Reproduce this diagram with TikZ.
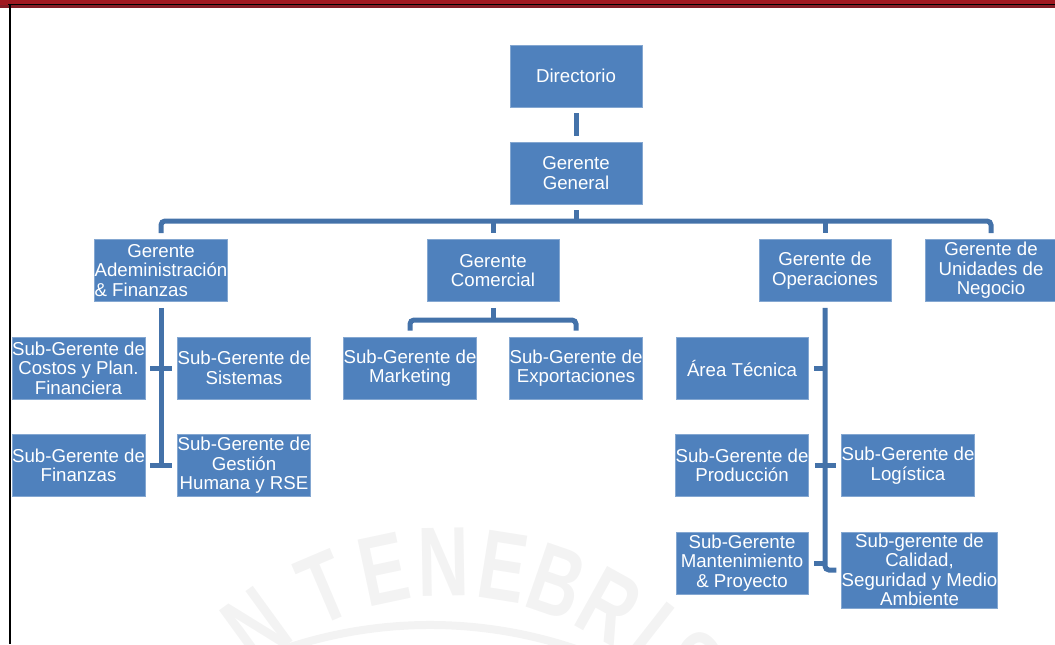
\documentclass[tikz,border=0pt]{standalone}
\usepackage{fontspec}
\setmainfont{Liberation Sans}
\usetikzlibrary{calc}

\definecolor{boxblue}{HTML}{4F81BD}
\definecolor{linkblue}{HTML}{4472A9}
\definecolor{sealgray}{HTML}{F3F3F3}
\definecolor{bandred}{HTML}{A01820}
\definecolor{banddark}{HTML}{841C25}

\tikzset{
  box/.style={draw=boxblue!70!white, line width=0.5pt, fill=boxblue, text=white,
    font=\fontsize{14}{14.6}\selectfont, align=center, inner sep=0pt,
    minimum width=99pt, minimum height=46.5pt},
  widebox/.style={box, minimum width=116.25pt, minimum height=57pt},
  conn/.style={draw=linkblue, line width=3.75pt},
  seal/.style={text=sealgray, font=\fontsize{74}{74}\selectfont\bfseries, inner sep=0pt},
}
% narrow capital for the seal lettering
\newcommand{\sealchar}[1]{\scalebox{0.72}[1]{#1}}

\begin{document}
\begin{tikzpicture}[x=0.75pt, y=-0.75pt]
\useasboundingbox (0,0) rectangle (1055,644);

% page frame: red band with black rule, black rule on the left
\fill[bandred] (0,0) rectangle (1055,8);
\fill[banddark] (0,5) rectangle (1055,8);
\draw[black, line width=1.2pt] (8,4.5) -- (1055,4.5);
\draw[black, line width=1.5pt] (9.5,4) -- (9.5,644);

% faint seal in the background
\draw[sealgray, line width=6pt] (274.4,652.4) arc[start angle=110, end angle=70, radius=341.25pt];
\node[seal, rotate=36]  (sealN1) at (256,626) {\sealchar{N}};
\node[seal, rotate=23]  (sealT)  at (324,588) {\sealchar{T}};
\node[seal, rotate=12]  (sealE1) at (384,569) {\sealchar{E}};
\node[seal, rotate=1]   (sealN2) at (444,562) {\sealchar{N}};
\node[seal, rotate=-9]  (sealE2) at (503,567) {\sealchar{E}};
\node[seal, rotate=-19] (sealB)  at (557,582) {\sealchar{B}};
\node[seal, rotate=-29] (sealR)  at (609,606) {\sealchar{R}};
\node[seal, rotate=-38] (sealI)  at (650,632) {\sealchar{I}};
\node[seal, rotate=-47] (sealS)  at (688,664) {\sealchar{S}};

% top of the chart
\node[box] (dir) at (576,76)  {Directorio};
\node[box] (gg)  at (576,173) {Gerente\\General};

% managers
\node[box] (adm) at (161,270.5) {Gerente\\Adeministración\\\rlap{\& Finanzas}\phantom{Adeministración}};
\node[box] (com) at (493,270.5) {Gerente\\Comercial};
\node[box] (ope) at (825,270.5) {Gerente de\\Operaciones};
\node[box] (uni) at (991,270.5) {Gerente de\\Unidades de\\Negocio};

% administration & finance
\node[box] (costos) at (78.5,368)  {Sub-Gerente de\\Costos y Plan.\\Financiera};
\node[box] (sis)    at (244,368)   {Sub-Gerente de\\Sistemas};
\node[box] (fin)    at (78.5,465.5){Sub-Gerente de\\Finanzas};
\node[box] (ges)    at (244,465.5) {Sub-Gerente de\\Gestión\\Humana y RSE};

% commercial
\node[box] (mkt) at (410,368) {Sub-Gerente de\\Marketing};
\node[box] (exp) at (576,368) {Sub-Gerente de\\Exportaciones};

% operations
\node[box] (area) at (742,368)   {Área Técnica};
\node[box] (prod) at (742,465.5) {Sub-Gerente de\\Producción};
\node[box] (log)  at (908,465.5) {Sub-Gerente de\\Logística};
\node[box] (mant) at (742,563)   {Sub-Gerente\\Mantenimiento\\\& Proyecto};
\node[widebox] (cal) at (919.5,570) {Sub-gerente de\\Calidad,\\Seguridad y Medio\\Ambiente};

% connectors
\coordinate (bus)  at (576,221);
\coordinate (cbus) at (493,320);

\draw[conn] ($(dir.south)+(0,6)$) -- ($(gg.north)+(0,-6)$);
\draw[conn] ($(gg.south)+(0,6)$) -- (bus);
\draw[conn, rounded corners=3pt] ($(adm.north)+(0,-6)$) |- (bus) -| ($(uni.north)+(0,-6)$);
\draw[conn] (com.north |- bus) -- ($(com.north)+(0,-6)$);
\draw[conn] (ope.north |- bus) -- ($(ope.north)+(0,-6)$);

\draw[conn] ($(adm.south)+(0,6)$) -- (adm.south |- fin.east);
\draw[conn] ($(costos.east)+(5,0)$) -- ($(sis.west)+(-5,0)$);
\draw[conn] ($(fin.east)+(5,0)$) -- ($(ges.west)+(-5,0)$);

\draw[conn] ($(com.south)+(0,6)$) -- (cbus);
\draw[conn, rounded corners=3pt] ($(mkt.north)+(0,-6)$) |- (cbus) -| ($(exp.north)+(0,-6)$);

\draw[conn, rounded corners=3pt] ($(ope.south)+(0,6)$) |- ($(cal.west)+(-5,0)$);
\draw[conn] ($(area.east)+(6,0)$) -- (area.east -| ope.south);
\draw[conn] ($(prod.east)+(6,0)$) -- ($(log.west)+(-5,0)$);
\draw[conn] ($(mant.east)+(6,0)$) -- (mant.east -| ope.south);
\end{tikzpicture}
\end{document}
